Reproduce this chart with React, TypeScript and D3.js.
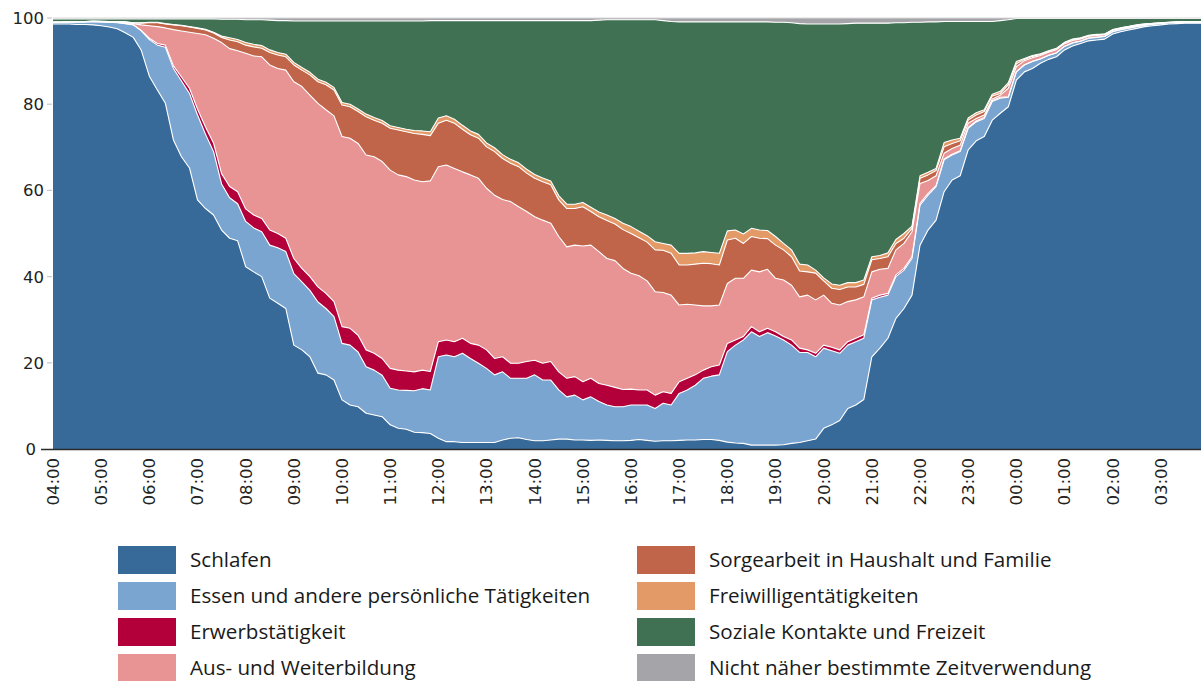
import React from "react";
import * as d3 from "d3";

const hourLabels = [
  "04:00", "05:00", "06:00", "07:00", "08:00", "09:00", "10:00", "11:00",
  "12:00", "13:00", "14:00", "15:00", "16:00", "17:00", "18:00", "19:00",
  "20:00", "21:00", "22:00", "23:00", "00:00", "01:00", "02:00", "03:00",
];
const slotsPerHour = 6;
const yTicks = [0, 20, 40, 60, 80, 100];

const schlafen = [
  98.6, 98.6, 98.6, 98.5, 98.5, 98.4, 98.2, 97.9, 97.5, 96.6,
  95.5, 92.5, 86.5, 83.3, 80.2, 71.7, 67.8, 65.2, 57.8, 55.8,
  54.3, 50.8, 48.9, 48.3, 42.3, 41.1, 40.0, 35.0, 33.8, 32.6,
  24.1, 23.0, 21.4, 17.6, 17.2, 16.0, 11.4, 10.2, 9.8, 8.3,
  7.9, 7.5, 5.6, 4.8, 4.6, 3.9, 3.8, 3.6, 2.5, 1.7,
  1.7, 1.5, 1.5, 1.5, 1.5, 1.5, 2.1, 2.5, 2.6, 2.2,
  1.9, 1.9, 2.1, 2.3, 2.3, 2.1, 2.1, 2.0, 2.1, 2.0,
  1.9, 1.9, 2.0, 2.2, 2.0, 1.8, 1.9, 1.9, 2.0, 2.1,
  2.1, 2.2, 2.2, 2.0, 1.6, 1.4, 1.3, 0.9, 0.9, 0.9,
  0.9, 1.0, 1.3, 1.5, 1.9, 2.3, 4.8, 5.6, 6.6, 9.4,
  10.2, 11.5, 21.4, 23.4, 25.7, 30.3, 32.6, 35.7, 47.3, 50.8,
  53.1, 59.7, 62.4, 63.4, 69.4, 71.5, 72.5, 76.3, 77.9, 79.4,
  85.6, 87.5, 88.3, 89.5, 90.4, 91.0, 92.6, 93.5, 94.1, 94.7,
  94.9, 95.1, 96.3, 96.8, 97.2, 97.6, 98.0, 98.2, 98.4, 98.6,
  98.7, 98.8, 98.8, 98.8,
];
const essen = [
  0.4, 0.4, 0.5, 0.6, 0.6, 0.8, 0.9, 1.1, 1.4, 2.1,
  2.9, 4.5, 8.5, 10.4, 13.0, 16.6, 17.6, 17.3, 19.7, 17.2,
  14.7, 10.7, 9.4, 8.6, 10.5, 10.2, 10.4, 12.3, 12.9, 13.2,
  16.6, 15.8, 15.4, 16.5, 15.4, 14.7, 13.1, 13.9, 12.7, 10.8,
  10.4, 9.6, 8.5, 8.9, 9.0, 9.6, 10.2, 10.1, 18.9, 20.1,
  19.7, 20.7, 19.5, 18.4, 17.2, 15.7, 15.8, 13.9, 13.8, 14.2,
  15.3, 14.1, 13.9, 11.4, 9.8, 10.4, 9.3, 10.1, 8.9, 8.2,
  7.9, 7.9, 8.2, 8.0, 8.2, 7.6, 8.7, 8.3, 10.9, 11.6,
  12.7, 14.2, 14.7, 15.2, 21.0, 22.7, 24.0, 26.3, 25.2, 26.1,
  25.3, 24.3, 22.8, 20.9, 20.5, 19.1, 18.6, 17.2, 15.6, 14.7,
  14.7, 14.2, 13.2, 11.8, 10.0, 9.7, 8.9, 8.5, 9.3, 8.1,
  7.8, 7.4, 5.8, 5.6, 5.0, 4.4, 4.2, 4.3, 3.5, 2.2,
  1.9, 1.6, 1.6, 1.0, 0.9, 0.9, 0.8, 0.7, 0.5, 0.6,
  0.6, 0.6, 0.5, 0.5, 0.45, 0.4, 0.35, 0.35, 0.35, 0.3,
  0.3, 0.3, 0.3, 0.3,
];
const erwerb = [
  0, 0, 0, 0, 0, 0, 0, 0, 0.05, 0.05,
  0.05, 0.1, 0.3, 0.4, 0.5, 0.6, 0.9, 1.2, 1.4, 1.7,
  2.0, 2.4, 2.6, 2.8, 2.9, 3.0, 3.1, 3.5, 3.3, 3.1,
  3.5, 3.1, 3.2, 3.5, 3.5, 3.5, 3.9, 3.9, 3.9, 3.9,
  3.9, 3.9, 4.6, 4.6, 4.5, 4.4, 4.3, 4.3, 3.5, 3.5,
  3.5, 3.5, 3.5, 4.2, 4.3, 3.8, 3.5, 3.5, 3.5, 3.9,
  3.4, 3.9, 4.3, 4.2, 4.3, 4.3, 4.2, 4.3, 4.2, 4.6,
  4.5, 4.0, 3.7, 3.5, 3.5, 3.1, 2.7, 2.7, 2.7, 2.7,
  2.4, 1.9, 2.2, 2.3, 1.9, 1.2, 0.8, 1.2, 1.1, 1.0,
  1.0, 0.8, 1.2, 1.0, 0.6, 0.8, 0.7, 0.8, 0.8, 0.8,
  0.8, 0.8, 0.4, 0.5, 0.4, 0.4, 0.4, 0.4, 0.4, 0.4,
  0.2, 0.2, 0.2, 0.2, 0.2, 0.2, 0.2, 0.2, 0.2, 0.1,
  0.05, 0.05, 0.05, 0.05, 0.05, 0.05, 0.05, 0.05, 0.05, 0.05,
  0.05, 0.05, 0.05, 0.05, 0.05, 0.05, 0, 0, 0, 0,
  0, 0, 0, 0,
];
const bildung = [
  0, 0, 0, 0, 0, 0, 0.05, 0.05, 0.1, 0.15,
  0.25, 1.3, 2.9, 3.9, 4.0, 8.4, 10.7, 13.0, 17.5, 21.4,
  24.3, 30.4, 32.0, 32.7, 36.1, 36.9, 37.5, 38.3, 38.3, 39.0,
  41.0, 42.2, 42.1, 42.6, 42.6, 43.1, 44.1, 44.1, 44.5, 45.2,
  45.6, 45.7, 46.0, 45.3, 45.1, 44.5, 43.7, 44.2, 40.6, 40.6,
  40.2, 38.6, 39.1, 38.7, 37.5, 37.9, 36.5, 37.5, 36.3, 34.8,
  33.3, 33.2, 32.1, 31.4, 30.5, 30.5, 31.5, 30.9, 30.6, 29.4,
  29.4, 28.1, 26.9, 26.5, 25.3, 24.0, 23.0, 22.8, 17.8, 17.2,
  16.2, 14.9, 14.1, 13.9, 13.9, 14.3, 13.5, 13.1, 13.9, 13.7,
  12.4, 13.1, 12.7, 11.9, 12.7, 12.4, 11.6, 10.2, 10.4, 9.3,
  8.9, 8.8, 6.1, 6.0, 5.8, 5.8, 5.8, 5.8, 4.6, 3.0,
  2.3, 1.3, 1.3, 1.3, 1.0, 0.6, 0.6, 0.4, 0.5, 2.0,
  1.15, 0.95, 0.85, 0.75, 0.7, 0.7, 0.6, 0.55, 0.5, 0.4,
  0.4, 0.35, 0.3, 0.25, 0.2, 0.2, 0.15, 0.1, 0.1, 0.05,
  0.05, 0, 0, 0,
];
const sorgearbeit = [
  0.05, 0.05, 0.05, 0.05, 0.1, 0.1, 0.1, 0.15, 0.15, 0.2,
  0.15, 0.4, 0.7, 0.9, 0.9, 1.1, 1.2, 1.2, 1.2, 1.1,
  1.2, 1.2, 2.0, 2.1, 1.9, 2.1, 2.0, 2.9, 3.1, 3.1,
  3.9, 3.8, 4.7, 5.0, 5.8, 6.0, 7.3, 7.3, 7.4, 8.9,
  8.5, 8.9, 9.7, 10.4, 10.4, 10.8, 11.0, 10.5, 10.1, 10.4,
  10.5, 9.9, 9.3, 9.3, 9.6, 10.1, 9.5, 8.9, 9.3, 8.9,
  8.9, 8.9, 8.9, 8.5, 8.9, 8.5, 9.1, 7.8, 8.1, 8.8,
  8.5, 9.0, 9.2, 8.8, 9.0, 9.7, 9.8, 9.7, 9.3, 9.1,
  9.5, 9.9, 9.8, 9.3, 10.1, 9.3, 8.1, 7.8, 7.8, 7.1,
  7.7, 7.0, 6.6, 6.0, 5.4, 6.2, 3.3, 3.5, 3.6, 3.4,
  3.0, 2.9, 2.8, 2.5, 2.7, 1.5, 1.2, 0.8, 1.2, 1.3,
  1.2, 1.5, 1.2, 1.0, 0.7, 0.8, 0.8, 0.7, 0.4, 0.8,
  0.7, 0.3, 0.3, 0.25, 0.2, 0.2, 0.2, 0.2, 0.15, 0.15,
  0.15, 0.15, 0.1, 0.1, 0.1, 0.1, 0.1, 0.1, 0.05, 0.05,
  0.05, 0.05, 0.05, 0.05,
];
const freiwillig = [
  0, 0, 0, 0, 0, 0, 0, 0, 0, 0,
  0.05, 0.1, 0.1, 0.1, 0.1, 0.1, 0.1, 0.1, 0.1, 0.2,
  0.2, 0.3, 0.5, 0.5, 0.6, 0.6, 0.6, 0.6, 0.6, 0.6,
  0.6, 0.6, 0.6, 0.6, 0.6, 0.6, 0.6, 0.6, 0.6, 0.6,
  0.6, 0.6, 0.6, 0.6, 0.6, 0.7, 0.8, 0.9, 1.2, 1.0,
  0.9, 0.9, 0.9, 0.9, 0.9, 0.9, 0.9, 0.9, 0.9, 0.9,
  0.9, 0.9, 0.9, 1.0, 1.0, 1.0, 1.0, 1.0, 1.1, 1.3,
  1.3, 1.5, 1.6, 1.5, 1.5, 1.9, 1.6, 1.9, 2.7, 2.7,
  2.6, 2.7, 2.6, 2.7, 2.1, 1.9, 2.2, 1.9, 1.9, 1.9,
  2.0, 1.5, 1.6, 1.6, 1.6, 0.7, 0.7, 1.0, 1.0, 1.0,
  1.0, 1.0, 0.7, 0.7, 0.9, 0.9, 1.1, 0.5, 0.6, 0.6,
  0.5, 1.0, 0.8, 0.6, 0.5, 0.5, 0.4, 0.4, 0.5, 0.5,
  0.5, 0.2, 0.2, 0.15, 0.15, 0.15, 0.1, 0.1, 0.1, 0.1,
  0.1, 0.05, 0.05, 0.05, 0.05, 0.05, 0.05, 0, 0, 0,
  0, 0, 0, 0,
];
const sozial = [
  0.75, 0.75, 0.65, 0.65, 0.6, 0.5, 0.55, 0.6, 0.6, 0.7,
  0.9, 0.9, 0.8, 0.8, 1.1, 1.3, 1.5, 1.8, 2.1, 2.4,
  3.1, 3.9, 4.3, 4.7, 5.3, 5.7, 6.0, 6.9, 7.4, 7.8,
  9.6, 10.8, 11.9, 13.5, 14.2, 15.4, 18.9, 19.3, 20.4, 21.6,
  22.4, 23.1, 24.3, 24.7, 25.1, 25.4, 25.5, 25.8, 22.6, 22.1,
  22.9, 24.3, 25.6, 26.4, 28.4, 29.5, 31.1, 32.2, 33.0, 34.5,
  35.7, 36.5, 37.2, 40.6, 42.6, 42.6, 42.2, 43.3, 44.5, 45.3,
  46.1, 47.2, 48.0, 49.1, 50.1, 51.5, 51.7, 51.9, 53.7, 53.7,
  53.6, 53.3, 53.5, 53.7, 48.5, 48.3, 49.2, 47.9, 48.3, 48.4,
  49.7, 51.3, 52.7, 55.8, 55.9, 57.1, 58.9, 60.3, 60.6, 60.1,
  60.2, 59.6, 54.2, 53.9, 53.3, 50.3, 48.9, 47.3, 35.6, 34.9,
  34.0, 28.1, 27.5, 27.1, 22.4, 21.2, 20.5, 16.9, 16.4, 14.6,
  10.0, 9.3, 8.6, 8.2, 7.5, 6.9, 5.55, 4.8, 4.5, 3.9,
  3.7, 3.6, 2.6, 2.15, 1.85, 1.5, 1.25, 1.15, 1.0, 0.9,
  0.8, 0.75, 0.75, 0.75,
];
const nichtBestimmt = [
  0.2, 0.2, 0.2, 0.2, 0.2, 0.2, 0.2, 0.2, 0.2, 0.2,
  0.2, 0.2, 0.2, 0.2, 0.2, 0.2, 0.2, 0.2, 0.2, 0.2,
  0.2, 0.3, 0.3, 0.3, 0.4, 0.4, 0.4, 0.5, 0.6, 0.6,
  0.7, 0.7, 0.7, 0.7, 0.7, 0.7, 0.7, 0.7, 0.7, 0.7,
  0.7, 0.7, 0.7, 0.7, 0.7, 0.7, 0.7, 0.6, 0.6, 0.6,
  0.6, 0.6, 0.6, 0.6, 0.6, 0.6, 0.6, 0.6, 0.6, 0.6,
  0.6, 0.6, 0.6, 0.6, 0.6, 0.6, 0.6, 0.6, 0.5, 0.4,
  0.4, 0.4, 0.4, 0.4, 0.4, 0.4, 0.6, 0.8, 0.9, 0.9,
  0.9, 0.9, 0.9, 0.9, 0.9, 0.9, 0.9, 0.9, 0.9, 0.9,
  1.0, 1.0, 1.1, 1.3, 1.4, 1.4, 1.4, 1.4, 1.4, 1.3,
  1.2, 1.2, 1.2, 1.2, 1.2, 1.1, 1.1, 1.0, 1.0, 0.9,
  0.9, 0.8, 0.8, 0.8, 0.8, 0.8, 0.8, 0.8, 0.6, 0.4,
  0.1, 0.1, 0.1, 0.1, 0.1, 0.1, 0.1, 0.1, 0.1, 0.1,
  0.1, 0.1, 0.1, 0.1, 0.1, 0.1, 0.1, 0.1, 0.1, 0.1,
  0.1, 0.1, 0.1, 0.1,
];

const series = [
  { key: "schlafen", label: "Schlafen", color: "#376a98", values: schlafen },
  { key: "essen", label: "Essen und andere persönliche Tätigkeiten", color: "#7ba5d1", values: essen },
  { key: "erwerb", label: "Erwerbstätigkeit", color: "#b3003b", values: erwerb },
  { key: "bildung", label: "Aus- und Weiterbildung", color: "#e89495", values: bildung },
  { key: "sorge", label: "Sorgearbeit in Haushalt und Familie", color: "#c0644a", values: sorgearbeit },
  { key: "frei", label: "Freiwilligentätigkeiten", color: "#e39a66", values: freiwillig },
  { key: "sozial", label: "Soziale Kontakte und Freizeit", color: "#3f7152", values: sozial },
  { key: "nicht", label: "Nicht näher bestimmte Zeitverwendung", color: "#a5a5a9", values: nichtBestimmt },
];

const W = 1201;
const H = 681;
const left = 53;
const right = 1201;
const top = 18;
const bottom = 449;
const axisFont = "'DejaVu Sans', sans-serif";
const legendFont = "'Open Sans', Lato, sans-serif";

export default function App() {
  const n = schlafen.length;
  const x = d3.scaleLinear().domain([0, n - 1]).range([left, right]);
  const y = d3.scaleLinear().domain([0, 100]).range([bottom, top]);

  const rows = schlafen.map((_, i) => {
    const r: Record<string, number> = { i };
    series.forEach((s) => (r[s.key] = s.values[i]));
    return r;
  });
  const stacked = d3.stack<Record<string, number>>().keys(series.map((s) => s.key))(rows);

  const area = d3
    .area<any>()
    .x((d) => x(d.data.i))
    .y0((d) => y(d[0]))
    .y1((d) => y(d[1]));
  const line = d3
    .line<any>()
    .x((d) => x(d.data.i))
    .y((d) => y(d[1]));

  const legendRows = 4;
  const colX = [118, 637];
  const rowY = [560, 596, 632, 668];

  return (
    <svg
      width={W}
      height={H}
      style={{ position: "absolute", left: 0, top: 0, background: "#fff" }}
    >
      {stacked.map((layer, k) => (
        <path key={"a" + k} d={area(layer) || ""} fill={series[k].color} />
      ))}
      {stacked.slice(0, series.length - 1).map((layer, k) => (
        <path
          key={"l" + k}
          d={line(layer) || ""}
          fill="none"
          stroke="#fff"
          strokeWidth={1.1}
          strokeLinejoin="round"
        />
      ))}
      <line x1={left} x2={right} y1={top} y2={top} stroke="#d9d9d9" strokeWidth={1} />

      {/* y axis */}
      {yTicks.map((t) =>
        t === 0 ? null : (
          <line key={"yt" + t} x1={47} x2={52} y1={y(t)} y2={y(t)} stroke="#c8c8c8" strokeWidth={1.2} />
        )
      )}
      {yTicks.map((t) => (
        <text
          key={"yl" + t}
          x={t === 0 ? 36 : 44}
          y={y(t)}
          dy="0.36em"
          textAnchor="end"
          fontFamily={axisFont}
          fontSize={16.5}
          fill="#222"
        >
          {t}
        </text>
      ))}
      <line x1={41} x2={right} y1={bottom + 0.5} y2={bottom + 0.5} stroke="#2b2b2b" strokeWidth={1.6} />

      {/* x axis labels */}
      {hourLabels.map((lab, k) => {
        const px = x(k * slotsPerHour);
        return (
          <text
            key={"xl" + k}
            transform={`translate(${px},${458}) rotate(-90)`}
            dy="0.36em"
            textAnchor="end"
            fontFamily={axisFont}
            fontSize={16.5}
            fill="#222"
          >
            {lab}
          </text>
        );
      })}

      {/* legend */}
      {series.map((s, k) => {
        const col = Math.floor(k / legendRows);
        const row = k % legendRows;
        const sx = colX[col];
        const cy = rowY[row];
        return (
          <g key={"lg" + k}>
            <rect x={sx} y={cy - 14} width={58} height={28} fill={s.color} />
            <text
              x={sx + 72}
              y={cy}
              dy="0.35em"
              fontFamily={legendFont}
              fontSize={20.6}
              fill="#1a1a1a"
            >
              {s.label}
            </text>
          </g>
        );
      })}
    </svg>
  );
}
